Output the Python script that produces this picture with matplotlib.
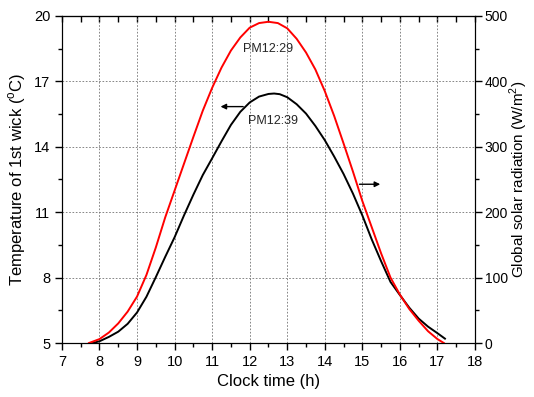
import matplotlib
matplotlib.use('Agg')
import matplotlib.pyplot as plt
from matplotlib.ticker import MultipleLocator, FixedLocator

plt.rcParams['font.family'] = ['Liberation Sans', 'DejaVu Sans']
plt.rcParams['mathtext.fontset'] = 'custom'
plt.rcParams['mathtext.rm'] = 'Liberation Sans'

# temperature of 1st wick (left axis)
temp_hours = [7.82, 8.0, 8.25, 8.5, 8.75, 9.0, 9.25, 9.5, 9.75, 10.0, 10.25, 10.5,
              10.75, 11.0, 11.25, 11.5, 11.75, 12.0, 12.25, 12.5, 12.65, 12.8, 13.0,
              13.25, 13.5, 13.75, 14.0, 14.25, 14.5, 14.75, 15.0, 15.25, 15.5, 15.75,
              16.0, 16.25, 16.5, 16.75, 17.0, 17.2]
temp_vals = [5.0, 5.08, 5.28, 5.52, 5.88, 6.4, 7.12, 8.02, 8.95, 9.85, 10.85, 11.8,
             12.7, 13.47, 14.25, 15.0, 15.6, 16.03, 16.3, 16.42, 16.44, 16.41, 16.27,
             15.95, 15.52, 14.95, 14.3, 13.55, 12.75, 11.85, 10.85, 9.75, 8.75, 7.8,
             7.2, 6.62, 6.12, 5.75, 5.45, 5.2]

# global solar radiation (right axis)
rad_hours = [7.72, 8.0, 8.25, 8.5, 8.75, 9.0, 9.25, 9.5, 9.75, 10.0, 10.25, 10.5,
             10.75, 11.0, 11.25, 11.5, 11.75, 12.0, 12.25, 12.5, 12.75, 13.0, 13.25,
             13.5, 13.75, 14.0, 14.25, 14.5, 14.75, 15.0, 15.25, 15.5, 15.75, 16.0,
             16.25, 16.5, 16.75, 17.0, 17.17]
rad_vals = [0, 6, 16, 30, 48, 71, 104, 146, 192, 233, 274, 315,
            355, 390, 421, 447, 467, 482, 489, 491, 489, 481, 465,
            444, 418, 385, 347, 305, 262, 217, 177, 137, 100, 74,
            52, 34, 18, 6, 0]

temp_ticks = [5, 8, 11, 14, 17, 20]
temp_minor = [6.5, 9.5, 12.5, 15.5, 18.5]
peak_labels = ['PM12:29', 'PM12:39']


def main():
	fig = plt.figure(figsize=(5.34, 3.97), dpi=100)
	ax = fig.add_axes([0.116, 0.136, 0.7735, 0.824])
	ax2 = ax.twinx()

	ax.plot(temp_hours, temp_vals, color='black', lw=1.4)
	ax2.plot(rad_hours, rad_vals, color='red', lw=1.4)

	ax.set_xlim(7, 18)
	ax.set_ylim(5, 20)
	ax2.set_ylim(0, 500)
	ax.xaxis.set_major_locator(MultipleLocator(1))
	ax.xaxis.set_minor_locator(MultipleLocator(0.5))
	ax.yaxis.set_major_locator(FixedLocator(temp_ticks))
	ax.yaxis.set_minor_locator(FixedLocator(temp_minor))
	ax2.yaxis.set_major_locator(MultipleLocator(100))
	ax2.yaxis.set_minor_locator(MultipleLocator(50))

	ax.grid(True, which='major', ls=(0, (2, 2)), color='0.45', lw=0.6)
	ax.set_axisbelow(True)

	ax.tick_params(which='major', direction='out', length=5, width=1, labelsize=10.5)
	ax.tick_params(which='minor', direction='out', length=3, width=1)
	ax2.tick_params(which='major', direction='out', length=5, width=1, labelsize=10, pad=2)
	ax2.tick_params(which='minor', direction='out', length=3, width=1)

	# top spine ticks point inward
	top = ax.secondary_xaxis('top')
	top.xaxis.set_major_locator(MultipleLocator(1))
	top.xaxis.set_minor_locator(MultipleLocator(0.5))
	top.tick_params(which='both', direction='in', length=4, width=1, labeltop=False)

	ax.set_xlabel('Clock time (h)', fontsize=12)
	ax.set_ylabel(r'Temperature of 1st wick ($^{\rm o}$C)', fontsize=12, labelpad=4)
	# right label placed by hand so it stays inside the figure
	fig.text(0.972, 0.548, r'Global solar radiation (W/m$^{2}$)', fontsize=11,
			 rotation=90, ha='center', va='center')

	ax.text(12.5, 18.5, peak_labels[0], fontsize=9, ha='center', va='center', color='0.15')
	ax.text(12.62, 15.18, peak_labels[1], fontsize=9, ha='center', va='center', color='0.15')

	# arrows pointing to each curve's axis
	ax.annotate('', xy=(11.15, 15.84), xytext=(11.9, 15.84),
				arrowprops=dict(arrowstyle='-|>', color='black', lw=1, mutation_scale=8))
	ax.annotate('', xy=(15.55, 12.28), xytext=(14.85, 12.28),
				arrowprops=dict(arrowstyle='-|>', color='black', lw=1, mutation_scale=8))

	fig.savefig('out.png', dpi=100)


if __name__ == '__main__':
	main()
